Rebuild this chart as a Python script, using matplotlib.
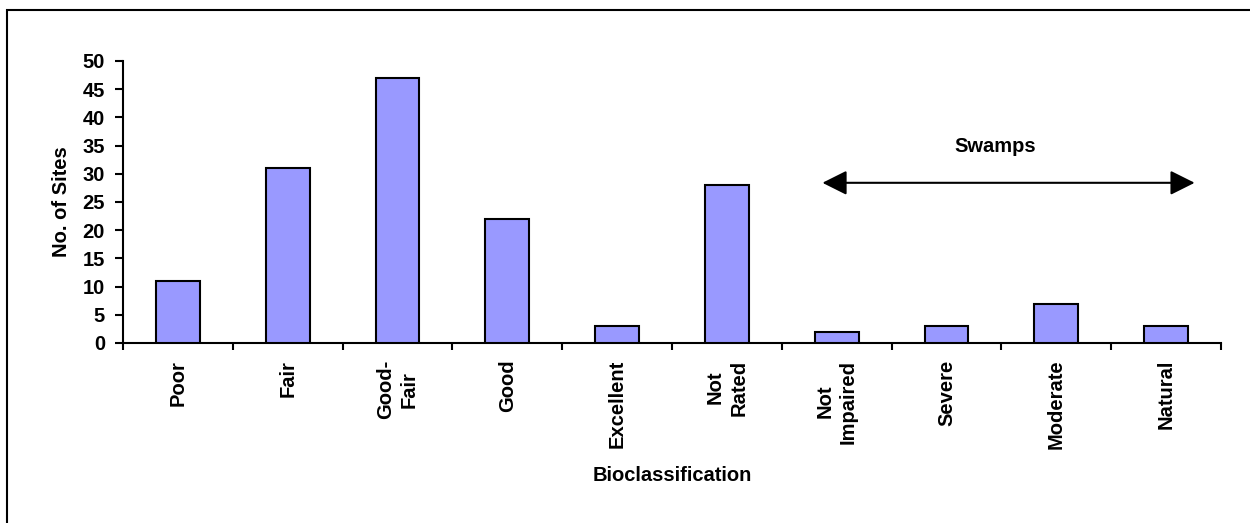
import matplotlib
matplotlib.use("Agg")
import matplotlib.pyplot as plt
from matplotlib.patches import Rectangle, FancyArrowPatch
import numpy as np

plt.rcParams['font.family'] = ['Liberation Sans', 'DejaVu Sans']
plt.rcParams['font.weight'] = 'bold'

categories = ['Poor', 'Fair', 'Good-\nFair', 'Good', 'Excellent', 'Not\nRated',
              'Not\nImpaired', 'Severe', 'Moderate', 'Natural']
sites = [11, 31, 47, 22, 3, 28, 2, 3, 7, 3]
yticks = [0, 5, 10, 15, 20, 25, 30, 35, 40, 45, 50]

FS = 14.5

fig = plt.figure(figsize=(12.5, 5.23), dpi=100)
ax = fig.add_axes([0.0984, 0.3442, 0.8784, 0.5392])

x = np.arange(len(categories))
ax.bar(x, sites, width=0.4, color='#9999FF', edgecolor='black', linewidth=1.5, zorder=3)

ax.set_xlim(-0.5, len(categories) - 0.5)
ax.set_ylim(0, 50)
ax.set_yticks(yticks)

ax.set_xticks(x)
ax.set_xticklabels(categories, rotation=90, ha='center', va='top',
                   multialignment='center', linespacing=1.3,
                   fontsize=FS, fontweight='bold')
ax.set_xticks(np.arange(len(categories) + 1) - 0.5, minor=True)
ax.tick_params(axis='x', which='major', length=0, pad=12)
ax.tick_params(axis='x', which='minor', length=5, width=1.5, direction='out')
ax.tick_params(axis='y', length=6, width=1.5, direction='out', labelsize=FS, pad=7)
for lab in ax.get_yticklabels():
    lab.set_fontweight('bold')

for side in ['top', 'right']:
    ax.spines[side].set_visible(False)
for side in ['left', 'bottom']:
    ax.spines[side].set_linewidth(1.5)

ax.set_xlabel('Bioclassification', fontsize=FS, fontweight='bold', labelpad=12)
ax.set_ylabel('No. of Sites', fontsize=FS, fontweight='bold', labelpad=8)

# swamps arrow
arrow = FancyArrowPatch((5.87, 28.4), (9.26, 28.4),
                        arrowstyle='<|-|>,head_length=1.0,head_width=0.5',
                        mutation_scale=15, color='black', linewidth=1.5,
                        shrinkA=0, shrinkB=0, zorder=4)
ax.add_patch(arrow)
ax.text(7.44, 34.8, 'Swamps', ha='center', va='center', fontsize=FS, fontweight='bold')

# outer chart border
fig.patches.append(Rectangle((7 / 1250, -0.05), 1.1, 1 - 10 / 523 + 0.05,
                             transform=fig.transFigure, fill=False,
                             edgecolor='black', linewidth=1.5))

fig.savefig('out.png', dpi=100)
